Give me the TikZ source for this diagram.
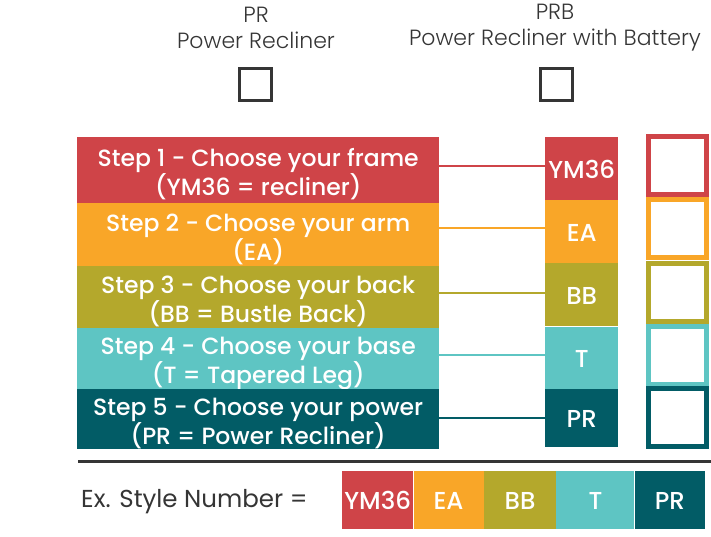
\documentclass[tikz,border=0pt]{standalone}
\usepackage{fontspec}
\setmainfont{Poppins}
\newfontfamily\medfont{Poppins Medium}
\newfontfamily\lightfont{Poppins Light}
\usetikzlibrary{positioning}
\definecolor{stepred}{HTML}{CF4448}
\definecolor{steporange}{HTML}{F9A628}
\definecolor{stepolive}{HTML}{B4A82C}
\definecolor{stepteal}{HTML}{5EC5C3}
\definecolor{steppetrol}{HTML}{025C66}
\definecolor{inkgray}{HTML}{353535}
\newcommand\steplift{\rule{0pt}{26pt}}

\begin{document}
\begin{tikzpicture}[x=1pt, y=-1pt,
  stepbox/.style={fill=#1, text=white, font=\medfont\fontsize{23.5}{29}\selectfont, align=center,
    minimum width=362, inner sep=0, anchor=north west},
  codebox/.style={fill=#1, text=white, font=\medfont\fontsize{24.5}{28}\selectfont,
    minimum width=73, inner sep=0, anchor=north west, text height=19pt, text depth=0pt},
  tickbox/.style={draw=#1, fill=white, line width=5, minimum size=58, inner sep=0},
  link/.style={draw=#1, line width=2},
  exbox/.style={fill=#1, text=white, font=\medfont\fontsize{24.5}{28}\selectfont,
    minimum height=58, inner sep=0, text height=19pt, text depth=0pt},
  toplbl/.style={text=inkgray, font=\lightfont\fontsize{22}{26}\selectfont, align=center}
]
  \useasboundingbox (0,0) rectangle (711,536);

  % power options
  \node[toplbl] (pr) at (256,28) {PR\\Power Recliner};
  \node[toplbl] (prb) at (555,28) {PRB\\Power Recliner with Battery};
  \node[draw=inkgray, line width=3, minimum size=32, inner sep=0] (prchk) at (255,84) {};
  \node[draw=inkgray, line width=3, minimum size=32, inner sep=0] (prbchk) at (556,84) {};

  % steps
  \node[stepbox=stepred, minimum height=66] (s1) at (77,137) {\steplift Step 1 - Choose your frame\\(YM36 = recliner)};
  \node[stepbox=steporange, minimum height=63] (s2) at (77,203) {\steplift Step 2 - Choose your arm\\(EA)};
  \node[stepbox=stepolive, minimum height=62] (s3) at (77,266) {\steplift Step 3 - Choose your back\\(BB = Bustle Back)};
  \node[stepbox=stepteal, minimum height=61] (s4) at (77,328) {\steplift Step 4 - Choose your base\\(T = Tapered Leg)};
  \node[stepbox=steppetrol, minimum height=58] (s5) at (77,389) {\steplift Step 5 - Choose your power\\(PR = Power Recliner)};

  % codes
  \node[codebox=stepred, minimum height=63] (c1) at (545,137) {YM36};
  \node[codebox=steporange, minimum height=63] (c2) at (545,200) {EA};
  \node[codebox=stepolive, minimum height=63] (c3) at (545,263) {BB};
  \node[codebox=stepteal, minimum height=62] (c4) at (545,327) {T};
  \node[codebox=steppetrol, minimum height=58] (c5) at (545,389) {PR};

  \draw[link=stepred] (s1.east |- c1.west) ++(0,-3) coordinate (l1) -- (l1 -| c1.west);
  \draw[link=steporange] (s2.east |- c2.west) ++(0,-4) coordinate (l2) -- (l2 -| c2.west);
  \draw[link=stepolive] (s3.east |- c3.west) ++(0,-2) coordinate (l3) -- (l3 -| c3.west);
  \draw[link=stepteal] (s4.east |- c4.west) ++(0,-3) coordinate (l4) -- (l4 -| c4.west);
  \draw[link=steppetrol] (s5.east |- c5.west) -- (c5.west);

  % check boxes
  \node[tickbox=stepred] (b1) at (677.5,165.5) {};
  \node[tickbox=steporange] (b2) at (677.5,228.5) {};
  \node[tickbox=stepolive] (b3) at (677.5,292) {};
  \node[tickbox=stepteal] (b4) at (677.5,355) {};
  \node[tickbox=steppetrol] (b5) at (677.5,417.5) {};

  % example
  \draw[inkgray, line width=3] (78,461) -- (711,461);
  \node[text=inkgray, font=\fontsize{24.5}{28}\selectfont, anchor=west, inner sep=0] (exlbl) at (81,502) {Ex. Style Number =};
  \node[exbox=stepred, minimum width=71, anchor=north west] (e1) at (342,471) {YM36};
  \node[exbox=steporange, minimum width=70, right=0pt of e1] (e2) {EA};
  \node[exbox=stepolive, minimum width=72, right=0pt of e2] (e3) {BB};
  \node[exbox=stepteal, minimum width=78, right=0pt of e3] (e4) {T};
  \node[exbox=steppetrol, minimum width=70, right=0pt of e4] (e5) {PR};
\end{tikzpicture}
\end{document}
